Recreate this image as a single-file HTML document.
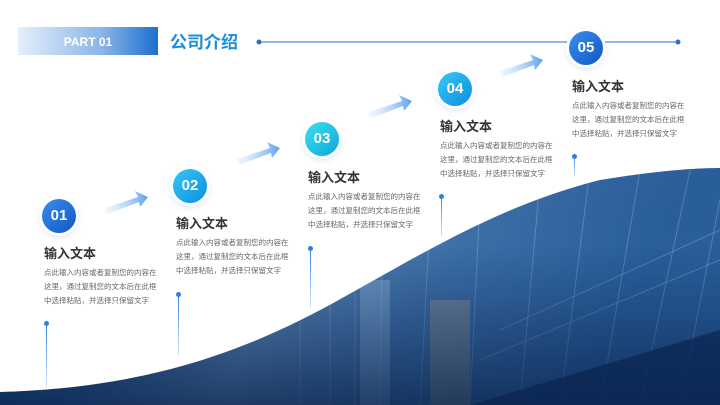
<!DOCTYPE html>
<html><head><meta charset="utf-8"><style>
body{margin:0;width:720px;height:405px;overflow:hidden;background:#fff;position:relative;font-family:"Liberation Sans","Noto Sans CJK SC",sans-serif}
.a{position:absolute}
.c{position:absolute;width:34px;height:34px;border-radius:50%;color:#fff;font-weight:bold;font-size:15px;text-align:center;line-height:34px;box-shadow:0 0 0 3px #fff,0 2px 8px rgba(40,120,220,.35)}
.t{position:absolute;font-size:13px;font-weight:bold;color:#333}
.d{position:absolute;font-size:7.5px;color:#666;line-height:14px;width:114px}
.l{position:absolute;width:1px;background:linear-gradient(#2f7fe0,rgba(47,127,224,.2))}
.l:before{content:"";position:absolute;left:-2px;top:-2px;width:5px;height:5px;border-radius:50%;background:#2f7fe0}
</style></head><body>
<svg class="a" style="left:0;top:0" width="720" height="405">
<defs>
<linearGradient id="bg" x1="0" y1="0" x2="1" y2="0.3">
<stop offset="0" stop-color="#0d3d7e"/><stop offset=".35" stop-color="#2d5f9a"/><stop offset=".55" stop-color="#5c86b8"/><stop offset=".75" stop-color="#3d6fa8"/><stop offset="1" stop-color="#2a5f9c"/></linearGradient>
<linearGradient id="sh" x1="0" y1="0" x2="0" y2="1"><stop offset="0" stop-color="#8fb6e0" stop-opacity=".3"/><stop offset=".6" stop-color="#0a2a5a" stop-opacity="0"/><stop offset="1" stop-color="#061c40" stop-opacity=".7"/></linearGradient>
<linearGradient id="pb" x1="0" x2="1"><stop offset="0" stop-color="#e3effb"/><stop offset=".6" stop-color="#8ab5e6"/><stop offset="1" stop-color="#1c6fd0"/></linearGradient>
<linearGradient id="ar" x1="0" x2="1"><stop offset="0" stop-color="#bcd8f7" stop-opacity=".2"/><stop offset="1" stop-color="#5aa2ef"/></linearGradient>
<clipPath id="w"><path d="M0,392 C150,388 250,350 344,297 C420,255 500,205 600,180 C660,170 700,168 720,168 L720,405 L0,405Z"/></clipPath>
</defs>
<g clip-path="url(#w)">
<rect width="720" height="405" fill="url(#bg)"/>
<g stroke="#a9c7e8" stroke-opacity=".35" stroke-width="1">
<line x1="300" y1="405" x2="300" y2="280"/><line x1="330" y1="405" x2="330" y2="270"/><line x1="355" y1="405" x2="355" y2="260"/><line x1="380" y1="405" x2="382" y2="250"/><line x1="420" y1="405" x2="430" y2="220"/><line x1="470" y1="405" x2="480" y2="200"/><line x1="520" y1="405" x2="540" y2="180"/><line x1="560" y1="405" x2="590" y2="170"/><line x1="600" y1="405" x2="640" y2="170"/><line x1="640" y1="405" x2="690" y2="170"/><line x1="680" y1="405" x2="720" y2="200"/>
<line x1="480" y1="360" x2="720" y2="260"/><line x1="500" y1="330" x2="720" y2="230"/>
</g>
<rect x="360" y="280" width="30" height="125" fill="#9fc2e6" opacity=".4"/>
<rect x="430" y="300" width="40" height="105" fill="#c9a882" opacity=".35"/>
<rect width="720" height="405" fill="url(#sh)"/>
<path d="M470,405 L720,330 L720,405Z" fill="#0a2450" opacity=".7"/>
</g>
<rect x="18" y="27" width="140" height="28" fill="url(#pb)"/>
<text x="88" y="46" fill="#fff" font-size="12" font-weight="bold" text-anchor="middle" font-family="Liberation Sans">PART 01</text>
<text x="170" y="48" fill="#1a8fd8" font-size="17" font-weight="bold" font-family="Noto Sans CJK SC">公司介绍</text>
<line x1="259" y1="42" x2="678" y2="42" stroke="#2a6fc9" stroke-width="1"/>
<circle cx="259" cy="42" r="2.5" fill="#2a6fc9"/><circle cx="678" cy="42" r="2.5" fill="#2a6fc9"/>
<g fill="url(#ar)">
<path d="M105,208 L138,197 L135,191 L148,197 L140,207 L139,202 L107,214Z"/>
<path d="M237,159 L270,148 L267,142 L280,148 L272,158 L271,153 L239,165Z"/>
<path d="M369,112 L402,101 L399,95 L412,101 L404,111 L403,106 L371,118Z"/>
<path d="M500,71 L533,60 L530,54 L543,60 L535,70 L534,65 L502,77Z"/>
</g>
</svg>
<div class="c" style="left:42px;top:199px;background:linear-gradient(135deg,#3a8ef0,#1058c0)">01</div>
<div class="c" style="left:173px;top:169px;background:linear-gradient(135deg,#38c8f5,#0a8ee0)">02</div>
<div class="c" style="left:305px;top:122px;background:linear-gradient(135deg,#40dff0,#0aa8d8)">03</div>
<div class="c" style="left:438px;top:72px;background:linear-gradient(135deg,#38c8f5,#0a8ee0)">04</div>
<div class="c" style="left:569px;top:31px;background:linear-gradient(135deg,#3a8ef0,#1058c0)">05</div>
<div class="t" style="left:44px;top:243px">输入文本</div>
<div class="t" style="left:176px;top:213px">输入文本</div>
<div class="t" style="left:308px;top:167px">输入文本</div>
<div class="t" style="left:440px;top:116px">输入文本</div>
<div class="t" style="left:572px;top:76px">输入文本</div>
<div class="d" style="left:44px;top:266px">点此输入内容或者复制您的内容在这里，通过复制您的文本后在此框中选择粘贴，并选择只保留文字</div>
<div class="d" style="left:176px;top:236px">点此输入内容或者复制您的内容在这里，通过复制您的文本后在此框中选择粘贴，并选择只保留文字</div>
<div class="d" style="left:308px;top:190px">点此输入内容或者复制您的内容在这里，通过复制您的文本后在此框中选择粘贴，并选择只保留文字</div>
<div class="d" style="left:440px;top:139px">点此输入内容或者复制您的内容在这里，通过复制您的文本后在此框中选择粘贴，并选择只保留文字</div>
<div class="d" style="left:572px;top:99px">点此输入内容或者复制您的内容在这里，通过复制您的文本后在此框中选择粘贴，并选择只保留文字</div>
<div class="l" style="left:46px;top:323px;height:65px"></div>
<div class="l" style="left:178px;top:294px;height:62px"></div>
<div class="l" style="left:310px;top:248px;height:60px"></div>
<div class="l" style="left:441px;top:196px;height:40px"></div>
<div class="l" style="left:574px;top:156px;height:20px"></div>
</body></html>
